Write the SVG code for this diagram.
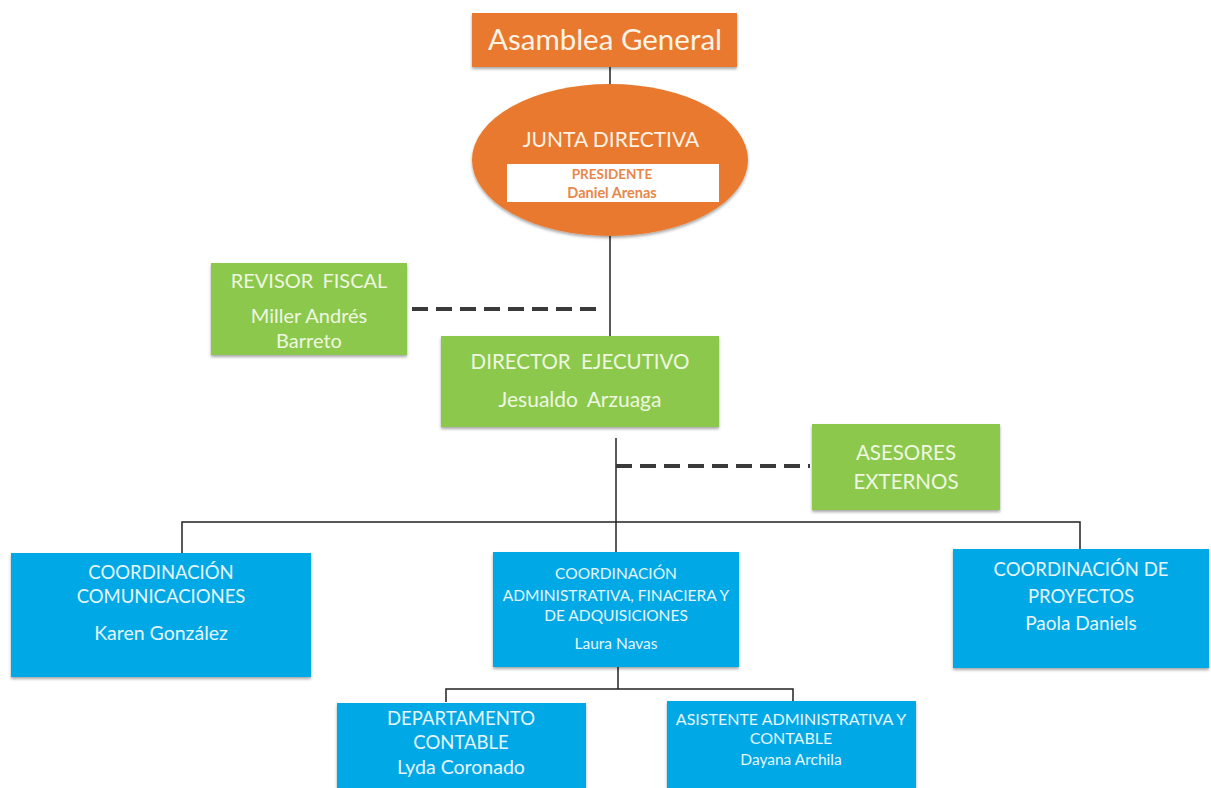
<svg xmlns="http://www.w3.org/2000/svg" width="1211" height="788" viewBox="0 0 1211 788">
<defs>
<filter id="sh" x="-10%" y="-10%" width="120%" height="130%">
<feDropShadow dx="0" dy="2" stdDeviation="1.6" flood-color="#000" flood-opacity="0.35"/>
</filter>
<style>
.or{fill:#E8792F}
.gr{fill:#8CC84B}
.bl{fill:#05A8E6}
.t{font-family:Lato,"Open Sans","Liberation Sans",sans-serif;text-anchor:middle}
.tw{fill:#FBF3E6}
.tg{fill:#EEF7E1}
.tb{fill:#E6F6FD}
.tp{fill:#E8874A;font-weight:bold}
.ln{stroke:#222;stroke-width:1.5;fill:none}
.ds{stroke:#3a3a3a;stroke-width:4;stroke-dasharray:16 8;fill:none}
</style>
</defs>
<rect width="1211" height="788" fill="#fff"/>
<g id="connectors">
<line class="ln" x1="610" y1="67" x2="610" y2="86"/>
<line class="ln" x1="610" y1="236" x2="610" y2="336"/>
<line class="ds" x1="412" y1="309" x2="604" y2="309"/>
<line class="ln" x1="616" y1="438" x2="616" y2="552"/>
<line class="ds" x1="616" y1="466" x2="810" y2="466"/>
<polyline class="ln" points="182,553 182,522 1080,522 1080,549"/>
<line class="ln" x1="618" y1="667" x2="618" y2="689"/>
<polyline class="ln" points="446,702 446,689 793,689 793,701"/>
</g>
<g id="asamblea">
<rect class="or" x="472" y="13" width="265" height="54" filter="url(#sh)"/>
<text class="t tw" x="605" y="50" font-size="29.5">Asamblea General</text>
</g>
<g id="junta">
<ellipse class="or" cx="610" cy="160" rx="138" ry="76" filter="url(#sh)"/>
<text class="t tw" x="611" y="147" font-size="21">JUNTA DIRECTIVA</text>
<rect x="507" y="164" width="212" height="38" fill="#fff"/>
<text class="t tp" x="612" y="179" font-size="13.5">PRESIDENTE</text>
<text class="t tp" x="612" y="198" font-size="14.5">Daniel Arenas</text>
</g>
<g id="revisor">
<rect class="gr" x="211" y="263" width="196" height="92" filter="url(#sh)"/>
<text class="t tg" x="309" y="288" font-size="20" word-spacing="4">REVISOR FISCAL</text>
<text class="t tg" x="309" y="323" font-size="20">Miller Andrés</text>
<text class="t tg" x="309" y="348" font-size="20">Barreto</text>
</g>
<g id="director">
<rect class="gr" x="441" y="336" width="278" height="91" filter="url(#sh)"/>
<text class="t tg" x="580" y="369" font-size="20.5" word-spacing="5">DIRECTOR EJECUTIVO</text>
<text class="t tg" x="580" y="407" font-size="21" word-spacing="4">Jesualdo Arzuaga</text>
</g>
<g id="asesores">
<rect class="gr" x="812" y="424" width="188" height="86" filter="url(#sh)"/>
<text class="t tg" x="906" y="460" font-size="20.5">ASESORES</text>
<text class="t tg" x="906" y="489" font-size="20.5">EXTERNOS</text>
</g>
<g id="comunicaciones">
<rect class="bl" x="11" y="553" width="300" height="124" filter="url(#sh)"/>
<text class="t tb" x="161" y="579" font-size="18.5">COORDINACIÓN</text>
<text class="t tb" x="161" y="603" font-size="18.5">COMUNICACIONES</text>
<text class="t tb" x="161" y="640" font-size="19.5">Karen González</text>
</g>
<g id="administrativa">
<rect class="bl" x="493" y="552" width="246" height="115" filter="url(#sh)"/>
<text class="t tb" x="616" y="579" font-size="15.5">COORDINACIÓN</text>
<text class="t tb" x="616" y="601" font-size="15.5">ADMINISTRATIVA, FINACIERA Y</text>
<text class="t tb" x="616" y="621" font-size="15.5">DE ADQUISICIONES</text>
<text class="t tb" x="616" y="649" font-size="15.5">Laura Navas</text>
</g>
<g id="proyectos">
<rect class="bl" x="953" y="549" width="256" height="119" filter="url(#sh)"/>
<text class="t tb" x="1081" y="576" font-size="18.5">COORDINACIÓN DE</text>
<text class="t tb" x="1081" y="603" font-size="18.5">PROYECTOS</text>
<text class="t tb" x="1081" y="630" font-size="19">Paola Daniels</text>
</g>
<g id="contable">
<rect class="bl" x="337" y="703" width="249" height="95" filter="url(#sh)"/>
<text class="t tb" x="461" y="725" font-size="18.5">DEPARTAMENTO</text>
<text class="t tb" x="461" y="749" font-size="18.5">CONTABLE</text>
<text class="t tb" x="461" y="774" font-size="19.5">Lyda Coronado</text>
</g>
<g id="asistente">
<rect class="bl" x="667" y="701" width="249" height="97" filter="url(#sh)"/>
<text class="t tb" x="791" y="725" font-size="16">ASISTENTE ADMINISTRATIVA Y</text>
<text class="t tb" x="791" y="744" font-size="16">CONTABLE</text>
<text class="t tb" x="791" y="765" font-size="15.5">Dayana Archila</text>
</g>
</svg>
